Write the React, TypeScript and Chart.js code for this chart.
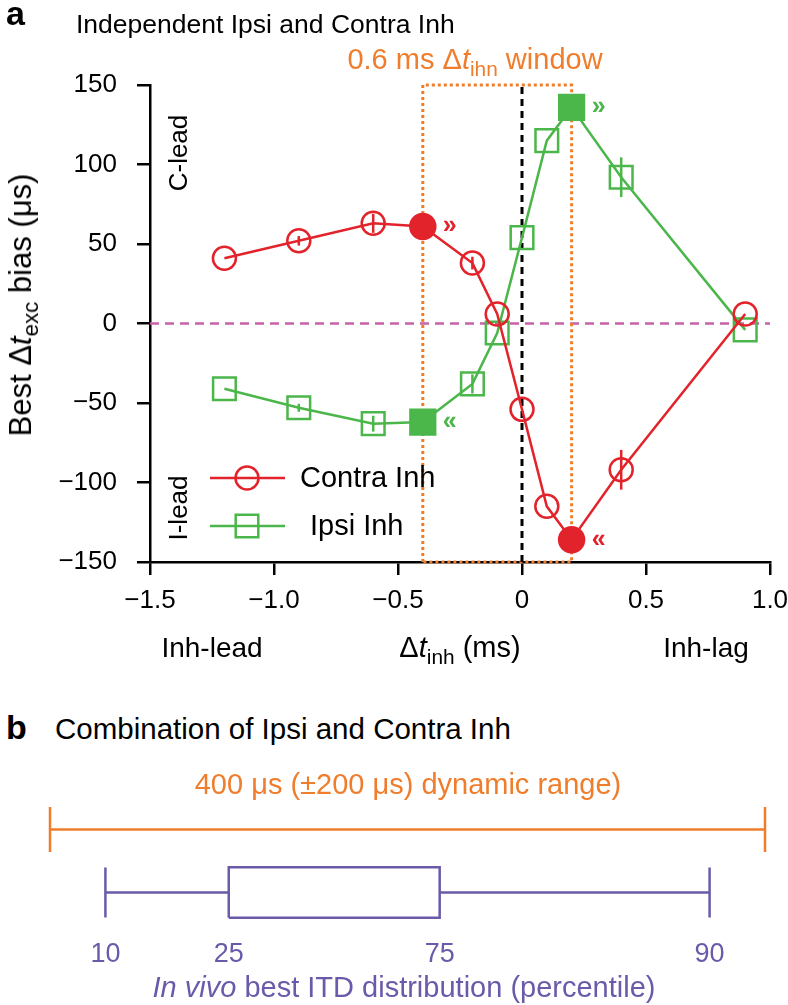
import React, { useEffect, useRef } from 'react';
import { Chart, registerables } from 'chart.js';

Chart.register(...registerables);

// ---------- Panel a data ----------
const DT_INH = [-1.2, -0.9, -0.6, -0.4, -0.2, -0.1, 0, 0.1, 0.2, 0.4, 0.9];
const CONTRA_BIAS = [41, 52, 63, 61, 38, 6, -54, -115, -136, -92, 6];
const CONTRA_ERR = [0, 3, 6, 0, 4, 0, 0, 0, 0, 12.5, 0];
const IPSI_BIAS = [-41, -53, -63, -62, -38, -6, 54, 115, 136, 92, -4];
const IPSI_ERR = [0, 2.5, 5, 0, 6, 0, 0, 0, 0, 12.5, 0];
const CONTRA_BEST = [3, 8];
const IPSI_BEST = [3, 8];
const CONTRA_MARKS = ['»', '«'];
const IPSI_MARKS = ['«', '»'];
const X_TICKS = [-1.5, -1.0, -0.5, 0, 0.5, 1.0];
const X_TICK_LABELS = ['−1.5', '−1.0', '−0.5', '0', '0.5', '1.0'];
const Y_TICKS = [-150, -100, -50, 0, 50, 100, 150];
const Y_TICK_LABELS = ['−150', '−100', '−50', '0', '50', '100', '150'];
const X_RANGE = [-1.5, 1.0];
const Y_RANGE = [-150, 150];
const WINDOW = [-0.4, 0.2];
const LEGEND_LABELS = ['Contra Inh', 'Ipsi Inh'];

// ---------- Panel b data ----------
const DYNAMIC_RANGE = [-200, 200];
const PERCENTILES = ['10', '25', '75', '90'];
const PERCENTILE_ITD = [-169, -100, 18, 169];

const FONT = "'Liberation Sans', Arial, Helvetica, sans-serif";
const RED = '#e3232b';
const GREEN = '#4bb649';
const ORANGE = '#ef7d2c';
const PINK = '#c862a6';
const PURPLE = '#6a5aa9';

function PanelA() {
  const ref = useRef<HTMLCanvasElement>(null);
  useEffect(() => {
    const canvas = ref.current!;
    const pts = (ys: number[]) => DT_INH.map((x, i) => ({ x, y: ys[i] }));
    const overlay = {
      id: 'overlay',
      afterDatasetsDraw(chart: any) {
        const { ctx } = chart;
        const xs = chart.scales.x;
        const ys = chart.scales.y;
        const series = [
          { v: CONTRA_BIAS, e: CONTRA_ERR, c: RED, best: CONTRA_BEST, marks: CONTRA_MARKS },
          { v: IPSI_BIAS, e: IPSI_ERR, c: GREEN, best: IPSI_BEST, marks: IPSI_MARKS },
        ];
        ctx.save();
        ctx.lineWidth = 2.5;
        for (const s of series) {
          ctx.strokeStyle = s.c;
          DT_INH.forEach((xv, i) => {
            const e = s.e[i];
            if (!e) return;
            const px = xs.getPixelForValue(xv);
            ctx.beginPath();
            ctx.moveTo(px, ys.getPixelForValue(s.v[i] - e));
            ctx.lineTo(px, ys.getPixelForValue(s.v[i] + e));
            ctx.stroke();
          });
          ctx.fillStyle = s.c;
          ctx.font = `bold 25px ${FONT}`;
          ctx.textAlign = 'center';
          ctx.textBaseline = 'middle';
          s.best.forEach((idx, k) => {
            ctx.fillText(s.marks[k], xs.getPixelForValue(DT_INH[idx]) + 27, ys.getPixelForValue(s.v[idx]));
          });
        }
        // legend
        const rows = [
          { c: RED, y: 478, tx: 300, shape: 'circle' },
          { c: GREEN, y: 526, tx: 310, shape: 'rect' },
        ];
        rows.forEach((r, k) => {
          ctx.strokeStyle = r.c;
          ctx.lineWidth = 2.5;
          ctx.beginPath();
          ctx.moveTo(210, r.y);
          ctx.lineTo(285, r.y);
          ctx.stroke();
          ctx.beginPath();
          if (r.shape === 'circle') ctx.arc(247, r.y, 11.5, 0, Math.PI * 2);
          else ctx.rect(247 - 11.3, r.y - 11.3, 22.6, 22.6);
          ctx.stroke();
          ctx.fillStyle = '#000';
          ctx.font = `29px ${FONT}`;
          ctx.textAlign = 'left';
          ctx.textBaseline = 'middle';
          ctx.fillText(LEGEND_LABELS[k], r.tx, r.y + 1);
        });
        ctx.restore();
      },
    };
    const chart = new Chart(canvas, {
      type: 'line',
      data: {
        datasets: [
          {
            label: LEGEND_LABELS[0],
            data: pts(CONTRA_BIAS),
            borderColor: RED,
            borderWidth: 2.5,
            pointStyle: 'circle',
            pointRadius: DT_INH.map((_, i) => (CONTRA_BEST.includes(i) ? 12.5 : 11.5)),
            pointBorderWidth: 2.5,
            pointBorderColor: RED,
            pointBackgroundColor: DT_INH.map((_, i) => (CONTRA_BEST.includes(i) ? RED : 'rgba(0,0,0,0)')),
            tension: 0,
            fill: false,
            order: 0,
            clip: false,
          },
          {
            label: LEGEND_LABELS[1],
            data: pts(IPSI_BIAS),
            borderColor: GREEN,
            borderWidth: 2.5,
            pointStyle: 'rect',
            pointRadius: DT_INH.map((_, i) => (IPSI_BEST.includes(i) ? 17.5 : 16)),
            pointBorderWidth: 2.5,
            pointBorderColor: GREEN,
            pointBackgroundColor: DT_INH.map((_, i) => (IPSI_BEST.includes(i) ? GREEN : 'rgba(0,0,0,0)')),
            tension: 0,
            fill: false,
            order: 1,
            clip: false,
          },
          {
            label: 'zero',
            data: [{ x: X_RANGE[0], y: 0 }, { x: X_RANGE[1], y: 0 }],
            borderColor: PINK,
            borderWidth: 2.5,
            borderDash: [9, 6],
            pointRadius: 0,
            order: 5,
          },
          {
            label: 'window',
            data: [
              { x: WINDOW[0], y: Y_RANGE[0] },
              { x: WINDOW[0], y: Y_RANGE[1] },
              { x: WINDOW[1], y: Y_RANGE[1] },
              { x: WINDOW[1], y: Y_RANGE[0] },
              { x: WINDOW[0], y: Y_RANGE[0] },
            ],
            borderColor: ORANGE,
            borderWidth: 3,
            borderDash: [3, 3],
            pointRadius: 0,
            order: 4,
            clip: false,
          },
          {
            label: 'zeroT',
            data: [{ x: 0, y: Y_RANGE[0] }, { x: 0, y: Y_RANGE[1] }],
            borderColor: '#000',
            borderWidth: 3,
            borderDash: [7, 5],
            pointRadius: 0,
            order: 3,
          },
        ],
      },
      options: {
        animation: false,
        responsive: false,
        events: [],
        layout: { autoPadding: false, padding: { left: 0, top: 85, right: 30, bottom: 78 } },
        plugins: { legend: { display: false }, tooltip: { enabled: false }, title: { display: false } },
        scales: {
          x: {
            type: 'linear',
            min: X_RANGE[0],
            max: X_RANGE[1],
            afterBuildTicks: (s: any) => { s.ticks = X_TICKS.map((v) => ({ value: v })); },
            afterFit: (s: any) => { s.height = 60; },
            ticks: {
              autoSkip: false,
              maxRotation: 0,
              padding: 10,
              color: '#000',
              font: { family: FONT, size: 26 },
              callback: (v: any) => X_TICK_LABELS[X_TICKS.indexOf(Number(v))] ?? '',
            },
            grid: { display: true, drawOnChartArea: false, drawTicks: true, tickLength: 13, tickWidth: 2.5, tickColor: '#000', color: '#000', lineWidth: 2.5 },
            border: { display: true, color: '#000', width: 2.5 },
          },
          y: {
            type: 'linear',
            min: Y_RANGE[0],
            max: Y_RANGE[1],
            afterBuildTicks: (s: any) => { s.ticks = Y_TICKS.map((v) => ({ value: v })); },
            afterFit: (s: any) => { s.width = 150; },
            ticks: {
              autoSkip: false,
              padding: 20,
              color: '#000',
              font: { family: FONT, size: 26 },
              callback: (v: any) => Y_TICK_LABELS[Y_TICKS.indexOf(Number(v))] ?? '',
            },
            grid: { display: true, drawOnChartArea: false, drawTicks: true, tickLength: 13, tickWidth: 2.5, tickColor: '#000', color: '#000', lineWidth: 2.5 },
            border: { display: true, color: '#000', width: 2.5 },
          },
        },
      } as any,
      plugins: [overlay],
    } as any);
    return () => chart.destroy();
  }, []);
  return <canvas ref={ref} width={800} height={700} style={{ position: 'absolute', left: 0, top: 0, width: 800, height: 700 }} />;
}

function PanelB() {
  const ref = useRef<HTMLCanvasElement>(null);
  useEffect(() => {
    const canvas = ref.current!;
    const RANGE_ROW = 1;
    const BOX_ROW = 0;
    const BOX_HALF = 0.4;
    const capStyle = { pointStyle: 'line', pointRotation: 90, pointBorderWidth: 2.5 };
    const chart = new Chart(canvas, {
      type: 'line',
      data: {
        datasets: [
          {
            data: [{ x: DYNAMIC_RANGE[0], y: RANGE_ROW }, { x: DYNAMIC_RANGE[1], y: RANGE_ROW }],
            borderColor: ORANGE,
            borderWidth: 2.5,
            pointRadius: 22.5,
            pointBorderColor: ORANGE,
            ...capStyle,
            clip: false,
          },
          {
            data: [
              { x: PERCENTILE_ITD[1], y: BOX_ROW - BOX_HALF },
              { x: PERCENTILE_ITD[1], y: BOX_ROW + BOX_HALF },
              { x: PERCENTILE_ITD[2], y: BOX_ROW + BOX_HALF },
              { x: PERCENTILE_ITD[2], y: BOX_ROW - BOX_HALF },
              { x: PERCENTILE_ITD[1], y: BOX_ROW - BOX_HALF },
            ],
            borderColor: PURPLE,
            borderWidth: 2.5,
            pointRadius: 0,
            clip: false,
          },
          {
            data: [{ x: PERCENTILE_ITD[0], y: BOX_ROW }, { x: PERCENTILE_ITD[1], y: BOX_ROW }],
            borderColor: PURPLE,
            borderWidth: 2.5,
            pointRadius: [25, 0],
            pointBorderColor: PURPLE,
            ...capStyle,
            clip: false,
          },
          {
            data: [{ x: PERCENTILE_ITD[2], y: BOX_ROW }, { x: PERCENTILE_ITD[3], y: BOX_ROW }],
            borderColor: PURPLE,
            borderWidth: 2.5,
            pointRadius: [0, 25],
            pointBorderColor: PURPLE,
            ...capStyle,
            clip: false,
          },
        ],
      },
      options: {
        animation: false,
        responsive: false,
        events: [],
        layout: { autoPadding: false, padding: { left: 50, top: 38, right: 23, bottom: 21 } },
        plugins: { legend: { display: false }, tooltip: { enabled: false } },
        scales: {
          x: {
            type: 'linear',
            min: DYNAMIC_RANGE[0],
            max: DYNAMIC_RANGE[1],
            afterBuildTicks: (s: any) => { s.ticks = PERCENTILE_ITD.map((v) => ({ value: v })); },
            afterFit: (s: any) => { s.height = 60; },
            ticks: {
              autoSkip: false,
              maxRotation: 0,
              padding: 6,
              color: PURPLE,
              font: { family: FONT, size: 27 },
              callback: (v: any) => PERCENTILES[PERCENTILE_ITD.indexOf(Number(v))] ?? '',
            },
            grid: { display: false },
            border: { display: false },
          },
          y: { type: 'linear', min: -0.5, max: 1.5, display: false },
        },
      } as any,
    } as any);
    return () => chart.destroy();
  }, []);
  return <canvas ref={ref} width={788} height={245} style={{ position: 'absolute', left: 0, top: 760, width: 788, height: 245 }} />;
}

type TProps = {
  x: number;
  y: number;
  size: number;
  align?: 'left' | 'center' | 'right';
  color?: string;
  bold?: boolean;
  rotate?: boolean;
  children: React.ReactNode;
};

// horizontal: y is the baseline; rotated: (x, y) is the centre
function T({ x, y, size, align = 'left', color = '#000', bold = false, rotate = false, children }: TProps) {
  const base: React.CSSProperties = {
    position: 'absolute',
    whiteSpace: 'nowrap',
    fontFamily: FONT,
    fontSize: size,
    lineHeight: `${size}px`,
    color,
    fontWeight: bold ? 700 : 400,
  };
  if (rotate) {
    return (
      <div style={{ ...base, left: x, top: y, transform: 'translate(-50%, -50%) rotate(-90deg)' }}>{children}</div>
    );
  }
  const shift = align === 'center' ? 'translateX(-50%)' : align === 'right' ? 'translateX(-100%)' : 'none';
  return <div style={{ ...base, left: x, top: y - 0.8465 * size, transform: shift }}>{children}</div>;
}

const Sub = ({ children }: { children: React.ReactNode }) => (
  <span style={{ fontSize: '0.72em', position: 'relative', top: '0.3em' }}>{children}</span>
);

export default function App() {
  return (
    <div style={{ position: 'absolute', left: 0, top: 0, width: 788, height: 1005, overflow: 'hidden', background: '#fff' }}>
      <PanelA />
      <PanelB />
      <T x={6} y={25} size={34} bold>a</T>
      <T x={76} y={33} size={26.5}>Independent Ipsi and Contra Inh</T>
      <T x={475} y={70} size={29} align="center" color={ORANGE}>
        0.6 ms Δ<i>t</i><Sub>ihn</Sub> window
      </T>
      <T x={22} y={305} size={31} rotate>
        Best Δ<i>t</i><Sub>exc</Sub> bias (μs)
      </T>
      <T x={178} y={153} size={26} rotate>C-lead</T>
      <T x={178} y={508} size={26} rotate>I-lead</T>
      <T x={212} y={658} size={28} align="center">Inh-lead</T>
      <T x={460} y={658} size={29} align="center">
        Δ<i>t</i><Sub>inh</Sub> (ms)
      </T>
      <T x={706} y={658} size={28} align="center">Inh-lag</T>
      <T x={6} y={739} size={34} bold>b</T>
      <T x={55} y={739} size={29.5}>Combination of Ipsi and Contra Inh</T>
      <T x={408} y={795} size={29} align="center" color={ORANGE}>
        400 μs (±200 μs) dynamic range)
      </T>
      <T x={404} y={998} size={29} align="center" color={PURPLE}>
        <i>In vivo</i> best ITD distribution (percentile)
      </T>
    </div>
  );
}
